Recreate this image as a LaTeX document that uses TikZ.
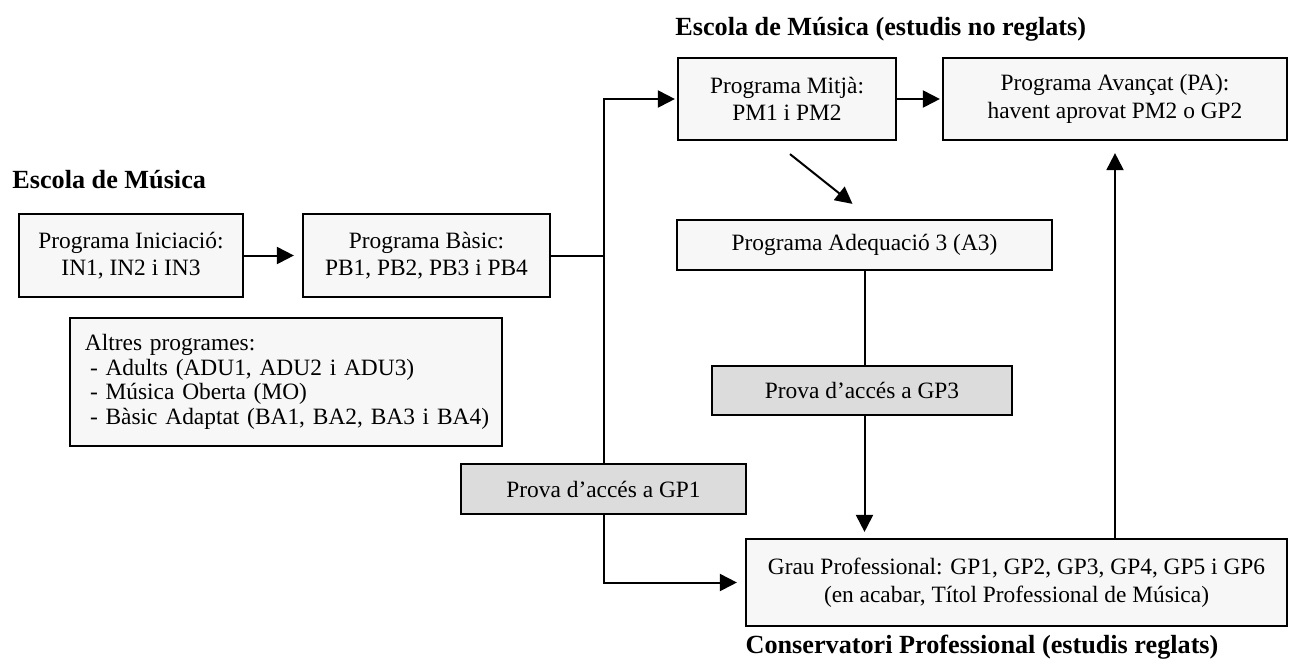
\documentclass[tikz,border=0pt]{standalone}
\usepackage{fontspec}
\setmainfont{Liberation Serif}
\usetikzlibrary{positioning, calc, arrows.meta}
\definecolor{boxgrey}{HTML}{F7F7F7}
\definecolor{testgrey}{HTML}{DCDCDC}

\begin{document}
\begin{tikzpicture}[x = 0.5pt, y = -0.5pt]

\tikzset{
programme/.style = {rectangle, draw, line width = 1.1pt, fill = boxgrey, inner sep = 2pt,
	align = center, font = \fontsize{11.7}{13.8}\selectfont},
test/.style = {programme, fill = testgrey},
heading/.style = {font = \fontsize{13.1}{15}\selectfont\bfseries, inner sep = 0pt},
route/.style = {-{Triangle[length = 8.5pt, width = 8.5pt]}, line width = 1pt},
link/.style = {line width = 1pt},
	}

\useasboundingbox (0, 0) rectangle (1289, 671);

%% Headings
\node at (12, 188) [heading, anchor = base west] (schoolhead) {Escola de Música};
\node at (675, 35) [heading, anchor = base west] (freehead) {Escola de Música (estudis no reglats)};
\node at (982, 653) [heading, anchor = base] (conshead) {Conservatori Professional (estudis reglats)};

%% Programmes
% Escola de Música
\node at (131, 255.5) [programme, minimum width = 112pt, minimum height = 41.5pt] (ini) {Programa Iniciació:\\IN1, IN2 i IN3};
\node at (426.5, 255.5) [programme, minimum width = 123.5pt, minimum height = 41.5pt] (basic) {Programa Bàsic:\\PB1, PB2, PB3 i PB4};
\node at (286, 382) [programme, align = left, text width = 212pt, inner xsep = 2pt, minimum height = 64pt,
	font = \fontsize{11.7}{12.3}\selectfont] (other) {\mbox{\hspace*{5.5pt}Altres programes:}\\
	\mbox{\hspace*{8pt}- Adults (ADU1, ADU2 i ADU3)}\\
	\mbox{\hspace*{8pt}- Música Oberta (MO)}\\
	\mbox{\hspace*{8pt}- Bàsic Adaptat (BA1, BA2, BA3 i BA4)}};

% estudis no reglats
\node at (787, 99) [programme, minimum width = 109pt, minimum height = 41pt] (pm) {Programa Mitjà:\\PM1 i PM2};
\node at (1115, 99) [programme, minimum width = 172pt, minimum height = 41pt] (pa) {Programa Avançat (PA):\\havent aprovat PM2 o GP2};
\node at (864.5, 245) [programme, minimum width = 187.5pt, minimum height = 25pt] (a3) {Programa Adequació 3 (A3)};

% Proves d'accés
\node at (862, 390.5) [test, minimum width = 150pt, minimum height = 24.5pt] (gp3) {Prova d’accés a GP3};
\node at (603.5, 489) [test, minimum width = 142.5pt, minimum height = 25pt] (gp1) {Prova d’accés a GP1};

% Conservatori
\node at (1016.5, 582.5) [programme, minimum width = 270.5pt, minimum height = 43.5pt] (gp) {Grau Professional: GP1, GP2, GP3, GP4, GP5 i GP6\\(en acabar, Títol Professional de Música)};

%% The routes
\draw [route, shorten > = 4pt] (ini.east) -- (basic.west);
\draw [link] (basic.east) -- (basic.east -| gp1.north);
\draw [route, shorten > = 1pt] (gp1.north) |- (pm.west);
\draw [route, shorten > = 4pt] (gp1.south) |- (gp.west);
\draw [route, shorten > = 1pt] (pm.east) -- (pa.west);
\draw [route] ($(pm.south) + (3, 13)$) -- ($(a3.north) + (-12, -15)$);
\draw [link] (a3.south) -- (a3.south |- gp3.north);
\draw [route, shorten > = 3pt] (a3.south |- gp3.south) -- (a3.south |- gp.north);
\draw [route, shorten > = 6pt] (pa.south |- gp.north) -- (pa.south);

\end{tikzpicture}
\end{document}
